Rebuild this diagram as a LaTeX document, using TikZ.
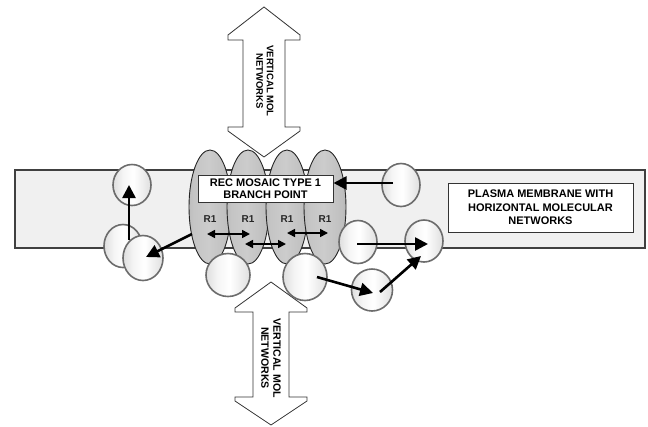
\documentclass[tikz,border=0pt]{standalone}
\usepackage{fontspec}
\setmainfont{Liberation Sans}
\usetikzlibrary{arrows.meta,shapes.geometric}
\pgfdeclarehorizontalshading{sph}{100bp}{color(0bp)=(gray!60); color(38bp)=(gray!8); color(52bp)=(white); color(75bp)=(gray!25); color(100bp)=(gray!70)}
\pgfdeclarehorizontalshading{rec}{100bp}{color(0bp)=(gray!80); color(30bp)=(gray!46); color(48bp)=(gray!40); color(70bp)=(gray!50); color(100bp)=(gray!85)}
\tikzset{
  membrane/.style={draw=black!75, line width=1.1pt, fill=gray!12, inner sep=0pt},
  sphere/.style 2 args={ellipse, draw=gray!85!black, line width=1.6pt, shading=sph, inner sep=0pt, minimum width=#1, minimum height=#2},
  recep/.style={ellipse, draw=black!85, line width=0.9pt, shading=rec, minimum width=42pt, minimum height=114pt, inner sep=0pt},
  labbox/.style={draw=black!80, line width=1pt, fill=white, align=center, inner sep=0pt,
     font=\fontsize{11}{11.5}\selectfont\bfseries},
  rlab/.style={font=\fontsize{10}{11}\selectfont\bfseries, text=black!85},
  bigarrow/.style={draw=black!80, line width=0.8pt, fill=white},
  vtext/.style={align=center, rotate=-90, font=\bfseries},
  mv/.style={line width=2.6pt, -{Triangle[length=13pt,width=13pt]}},
  dbl/.style={line width=1.6pt, {Triangle[length=8pt,width=8pt]}-{Triangle[length=8pt,width=8pt]}}
}
\begin{document}
\begin{tikzpicture}[x=1pt,y=-1pt]
\useasboundingbox (0,0) rectangle (648,426);
% membrane
\node[membrane, minimum width=630pt, minimum height=78pt] (mem) at (330,209) {};
% vertical network arrows
\draw[bigarrow] (264,7) -- (300,35) -- (300,40) -- (285,40) -- (285,127) -- (300,127) -- (300,131) -- (264,157)
  -- (228,131) -- (228,127) -- (243,127) -- (243,40) -- (228,40) -- (228,35) -- cycle;
\node[vtext, font=\fontsize{9.5}{10.5}\selectfont\bfseries] (vt1) at (265,81) {VERTICAL MOL\\NETWORKS};
\draw[bigarrow] (271,282) -- (307,308) -- (307,312) -- (289,312) -- (289,397) -- (307,397) -- (307,401) -- (271,425)
  -- (235,401) -- (235,397) -- (253,397) -- (253,312) -- (235,312) -- (235,308) -- cycle;
\node[vtext, font=\fontsize{10.6}{12}\selectfont\bfseries] (vt2) at (271,358) {VERTICAL MOL\\NETWORKS};
% left spheres
\node[sphere={38pt}{41pt}] (c1) at (132,185) {};
\node[sphere={38pt}{43pt}] (c2) at (123,246) {};
\node[sphere={40pt}{45pt}] (c3) at (143,258) {};
% receptors
\node[recep] (e1) at (210,207) {};
\node[recep] (e2) at (248,207) {};
\node[recep] (e3) at (287,207) {};
\node[recep] (e4) at (325,207) {};
% spheres over receptors
\node[sphere={44pt}{43pt}] (c4) at (228,275) {};
\node[sphere={44pt}{47pt}] (c5) at (305,277) {};
\node[sphere={38pt}{43pt}] (c6) at (358,242) {};
\node[sphere={38pt}{42pt}] (c7) at (424,241) {};
\node[sphere={41pt}{42pt}] (c8) at (372,290) {};
\node[sphere={38pt}{43pt}] (c9) at (401,185) {};
% boxes
\node[labbox, minimum width=135pt, minimum height=27pt] (rec) at (265.5,188.5) {REC MOSAIC TYPE 1\\BRANCH POINT};
\node[labbox, minimum width=185pt, minimum height=49pt, font=\fontsize{11}{13.5}\selectfont\bfseries] (pm) at (540.5,207.5) {PLASMA MEMBRANE WITH\\HORIZONTAL MOLECULAR\\NETWORKS};
% R1 labels
\node[rlab] (r1) at (210,219) {R1};
\node[rlab] (r2) at (248,219) {R1};
\node[rlab] (r3) at (287,219) {R1};
\node[rlab] (r4) at (325,219) {R1};
% arrow end points
\coordinate (a1s) at (129,240);
\coordinate (a1e) at (129,185);
\coordinate (a2s) at (192,234);
\coordinate (a2e) at (146,257);
\coordinate (a3s) at (393,183);
\coordinate (a4s) at (357,244);
\coordinate (a4e) at (428,244);
\coordinate (a5s) at (317,277);
\coordinate (a5e) at (373,293);
\coordinate (a6s) at (380,292);
\coordinate (a6e) at (421,256);
\coordinate (d1s) at (207,234);
\coordinate (d1e) at (250,234);
\coordinate (d2s) at (245,244);
\coordinate (d2e) at (286,244);
\coordinate (d3s) at (287,233);
\coordinate (d3e) at (328,233);
% movement arrows
\draw[mv] (a1s) -- (a1e);
\draw[mv] (a2s) -- (a2e);
\draw[mv] (a3s) -- (a3s -| rec.east);
\draw[mv] (a4s) -- (a4e);
\draw[mv] (a5s) -- (a5e);
\draw[mv] (a6s) -- (a6e);
% receptor interaction arrows
\draw[dbl] (d1s) -- (d1e);
\draw[dbl] (d2s) -- (d2e);
\draw[dbl] (d3s) -- (d3e);
\end{tikzpicture}
\end{document}
